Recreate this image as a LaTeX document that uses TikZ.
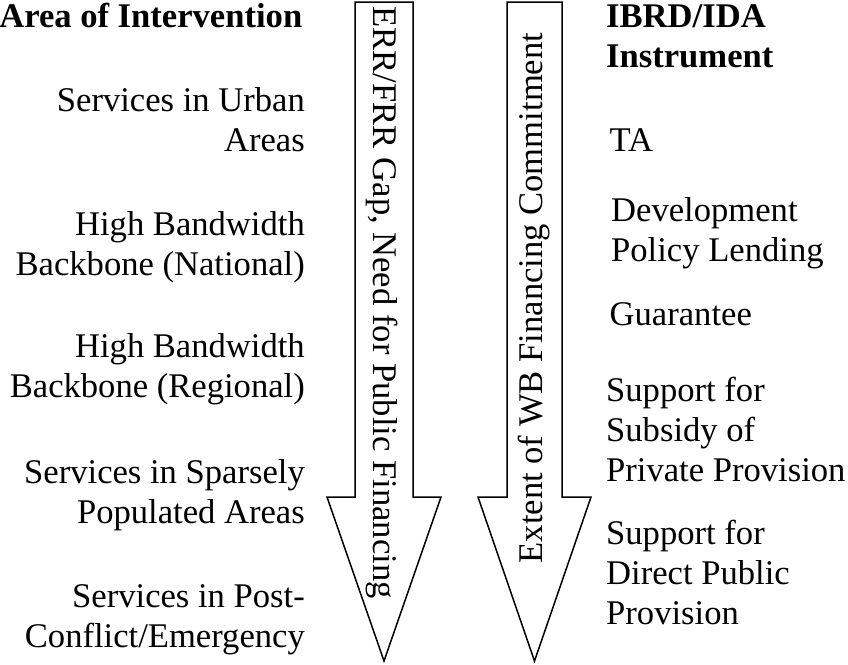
\documentclass[tikz,border=0pt]{standalone}
\usepackage{fontspec}
\setmainfont{Liberation Serif}
\begin{document}
\begin{tikzpicture}[x=1pt,y=1pt]
	\tikzstyle{every node}+=[inner sep=0pt]
	\tikzstyle{txt}=[font=\fontsize{34.6}{40}\selectfont]
	\tikzstyle{bold}=[font=\fontsize{34.6}{40}\selectfont\bfseries]
	\tikzstyle{area}=[txt,anchor=base east,align=right]
	\tikzstyle{instr}=[txt,anchor=base west,align=left]
	\tikzstyle{blockarrow}=[black,line width=1.5pt,line join=miter]
	\useasboundingbox (0,0) rectangle (848,-664);
	% the two block arrows
	\draw [blockarrow] (355,-2) -- (413,-2) -- (413,-497) -- (441,-497) -- (384,-661) -- (327,-497) -- (355,-497) -- cycle;
	\draw [blockarrow] (507,-2) -- (562,-2) -- (562,-497) -- (591,-497) -- (534.5,-661) -- (478,-497) -- (507,-497) -- cycle;
	\node (gaptext) [txt,rotate=-90,anchor=base west] at (373,-6.5) {ERR/FRR Gap, Need for Public Financing};
	\node (wbtext) [txt,rotate=90,anchor=base west] at (542.5,-563.5) {Extent of WB Financing Commitment};
	% left column (base = last line)
	\node (areahead) [bold,anchor=base east] at (302.5,-27) {Area of Intervention};
	\node (urban) [area] at (305,-151.7) {Services in Urban\\Areas};
	\node (national) [area] at (305,-275) {High Bandwidth\\Backbone (National)};
	\node (regional) [area] at (305,-397) {High Bandwidth\\Backbone (Regional)};
	\node (sparse) [area] at (305,-523) {Services in Sparsely\\Populated Areas};
	\node (conflict) [area] at (305,-647) {Services in Post-\\Conflict/Emergency};
	% right column
	\node (instrhead) [bold,anchor=base west,align=left] at (606,-67) {IBRD/IDA\\Instrument};
	\node (ta) [instr] at (609.5,-151.7) {TA};
	\node (dpl) [instr] at (611,-261.7) {Development\\Policy Lending};
	\node (guarantee) [instr] at (609.5,-325) {Guarantee};
	\node (subsidy) [instr] at (606,-481) {Support for\\Subsidy of\\Private Provision};
	\node (direct) [instr] at (606,-624) {Support for\\Direct Public\\Provision};
\end{tikzpicture}
\end{document}
